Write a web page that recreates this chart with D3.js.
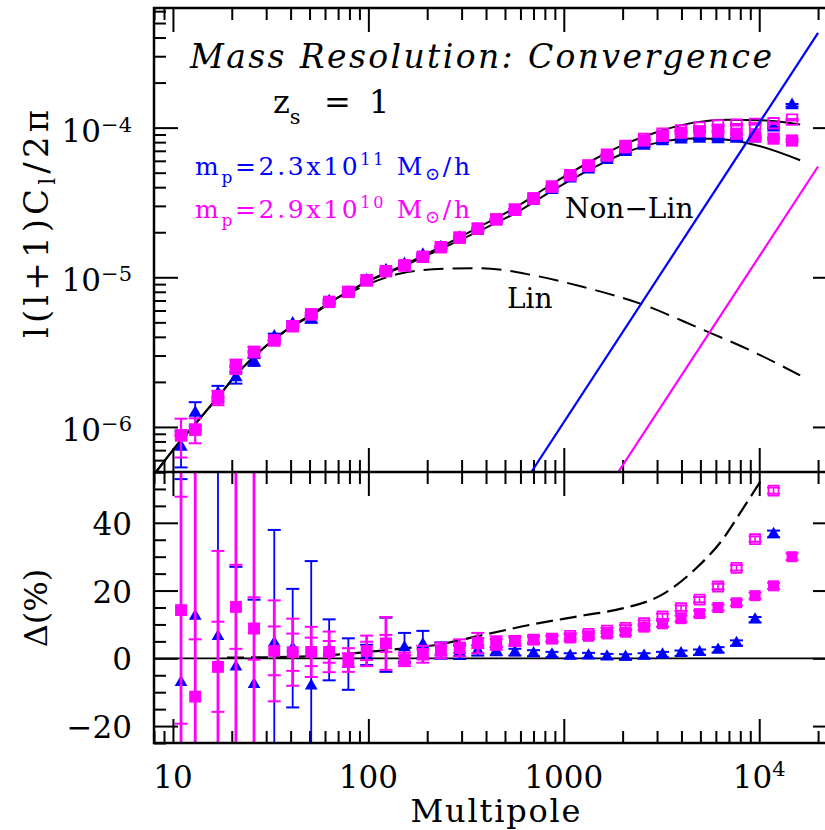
<!DOCTYPE html>
<html>
<head>
<meta charset="utf-8">
<title>Mass Resolution: Convergence</title>
<script src="https://cdn.jsdelivr.net/npm/d3@7"></script>
<style>
  body { margin: 0; background: #fff; }
  svg { display: block; }
  text { font-family: "DejaVu Serif", serif; fill: #000; }
</style>
</head>
<body>
<svg id="chart" width="825" height="830"></svg>
<script>
// multipole bins shared by all measured series
var ells = [11, 13, 17, 21, 26, 33, 41, 51, 63, 79, 98, 123, 153, 190, 235, 293, 363, 451, 562, 700,
  870, 1078, 1338, 1664, 2070, 2575, 3200, 3980, 4950, 6155, 7650, 9520, 11840, 14720];

// top panel, l(l+1)Cl/2pi
var powBlue = [7.35e-7, 1.24e-6, 1.68e-6, 2.14e-6, 2.72e-6, 4.0e-6, 4.9e-6, 5.2e-6, 6.9e-6, 7.85e-6,
  9.5e-6, 1.11e-5, 1.22e-5, 1.41e-5, 1.58e-5, 1.83e-5, 2.07e-5, 2.39e-5, 2.73e-5, 3.24e-5,
  3.82e-5, 4.56e-5, 5.24e-5, 6.07e-5, 6.85e-5, 7.55e-5, 8.1e-5, 8.3e-5, 8.4e-5, 8.35e-5,
  8.4e-5, 8.45e-5, 1.0e-4, 1.41e-4];
var powBlueErr = [0.27, 0.18, 0.12, 0.09, 0.06, 0.05, 0.04, 0.04, 0.03, 0.03, 0.025, 0.025, 0.02, 0.02,
  0.02, 0.02, 0.015, 0.015, 0.015, 0.015, 0.015, 0.015, 0.015, 0.015, 0.015, 0.015, 0.015, 0.015,
  0.015, 0.015, 0.015, 0.015, 0.015, 0.02];
var powMag = [8.8e-7, 9.6e-7, 1.57e-6, 2.54e-6, 3.17e-6, 3.79e-6, 4.71e-6, 5.66e-6, 6.84e-6, 7.98e-6,
  9.55e-6, 1.10e-5, 1.2e-5, 1.37e-5, 1.59e-5, 1.84e-5, 2.11e-5, 2.44e-5, 2.83e-5, 3.36e-5,
  4.03e-5, 4.8e-5, 5.55e-5, 6.5e-5, 7.4e-5, 8.2e-5, 8.8e-5, 9.25e-5, 9.45e-5, 9.4e-5,
  9.1e-5, 8.75e-5, 8.45e-5, 8.2e-5];
var powMagErr = [0.29, 0.19, 0.11, 0.11, 0.08, 0.05, 0.04, 0.03, 0.03, 0.025, 0.025, 0.02, 0.02, 0.02,
  0.02, 0.015, 0.015, 0.015, 0.015, 0.015, 0.015, 0.015, 0.015, 0.015, 0.015, 0.015, 0.015, 0.015,
  0.015, 0.015, 0.015, 0.015, 0.015, 0.02];
var powMagOpen = [8.8e-7, 9.6e-7, 1.57e-6, 2.54e-6, 3.17e-6, 3.79e-6, 4.71e-6, 5.66e-6, 6.84e-6, 7.98e-6,
  9.55e-6, 1.10e-5, 1.2e-5, 1.37e-5, 1.59e-5, 1.84e-5, 2.11e-5, 2.44e-5, 2.83e-5, 3.36e-5,
  4.03e-5, 4.82e-5, 5.6e-5, 6.6e-5, 7.55e-5, 8.4e-5, 9.1e-5, 9.6e-5, 1.0e-4, 1.035e-4,
  1.045e-4, 1.06e-4, 1.07e-4, 1.13e-4];
var powMagOpenErr = 0.012;

// bottom panel, Delta (%)
var dBlue = [-7.1, 12.5, 6.5, -2.5, -7.7, 4.6, 3.0, -8.1, 2.5, -1.7, 1.0, 4.0, 3.2, 4.1, 2.3, 1.8,
  2.3, 2.1, 1.8, 1.5, 1.1, 0.7, 0.8, 0.5, 0.4, 0.7, 1.1, 1.5, 1.8, 2.5, 4.5, 11.4, 36.7, 124];
var dBlueErr = [60, 60, 60, 29.5, 25, 33.3, 17.5, 36.8, 9.0, 7.6, 3.0, 8.0, 4.3, 4.0, 2.4, 2.0,
  1.5, 1.2, 1.0, 0.9, 0.8, 0.8, 0.8, 0.8, 0.8, 0.8, 0.8, 0.8, 0.8, 0.8, 0.8, 0.8, 1.0, 1.0];
var dMag = [14.2, -11.3, -2.5, 15.2, 8.8, 2.2, 1.8, 1.9, 1.9, -0.5, 2.2, 4.4, -0.3, 1.2, 2.3, 3.1,
  4.5, 4.5, 5.1, 5.5, 5.8, 6.0, 6.5, 7.2, 7.7, 9.2, 10.2, 11.7, 13.2, 15.0, 16.4, 18.5, 21.4, 30.0];
var dMagErr = [80, 80, 34.2, 60, 60, 14.9, 9.9, 7.4, 6.0, 3.5, 4.5, 7.8, 2.0, 2.5, 2.3, 2.5,
  3.0, 2.0, 1.5, 1.2, 1.0, 1.0, 0.9, 0.9, 0.9, 0.9, 0.9, 0.9, 0.9, 0.9, 0.9, 0.9, 0.9, 1.0];
var dMagOpen = [14.2, -11.3, -2.5, 15.2, 8.8, 2.2, 1.8, 1.9, 1.9, -0.5, 2.2, 4.4, -0.3, 1.2, 2.3, 3.1,
  4.5, 4.5, 5.1, 5.5, 5.8, 6.6, 7.2, 8.2, 9.0, 10.4, 12.4, 14.8, 17.3, 21.2, 26.7, 35.2, 49.5, 80];
var dMagOpenErr = [33.5, 16.9, 13.3, 12.4, 9.2, 7.2, 5.5, 4.2, 3.2, 2.0, 2.7, 2.5, 1.2, 1.5, 1.5, 1.5,
  1.5, 1.2, 1.0, 0.9, 0.8, 0.8, 0.8, 0.8, 0.8, 0.8, 0.8, 0.8, 0.8, 0.8, 0.8, 0.8, 0.9, 1.0];

// theory curves
var nlEll = [8, 10, 13, 17, 21, 26, 33, 41, 51, 63, 79, 100, 150, 233, 363, 564, 870, 1420, 2105,
  3118, 4616, 6837, 10110, 16200];
var nonLinA = [4.8e-7, 7.0e-7, 1.05e-6, 1.58e-6, 2.22e-6, 2.95e-6, 3.85e-6, 4.75e-6, 5.6e-6, 6.75e-6,
  8.0e-6, 9.4e-6, 1.18e-5, 1.54e-5, 2.02e-5, 2.68e-5, 3.78e-5, 5.4e-5, 6.87e-5, 8.0e-5, 8.45e-5,
  8.3e-5, 7.5e-5, 6.05e-5];
var nonLinB = [4.8e-7, 7.0e-7, 1.05e-6, 1.58e-6, 2.22e-6, 2.95e-6, 3.85e-6, 4.75e-6, 5.6e-6, 6.75e-6,
  8.0e-6, 9.45e-6, 1.2e-5, 1.59e-5, 2.15e-5, 2.92e-5, 4.2e-5, 6.1e-5, 7.87e-5, 9.5e-5, 1.08e-4,
  1.13e-4, 1.12e-4, 1.05e-4];
var linEll = [8, 10, 13, 17, 21, 26, 33, 41, 51, 63, 79, 100, 146, 243, 374, 701, 1263, 2460, 4990,
  8990, 16200];
var linPow = [4.8e-7, 7.0e-7, 1.05e-6, 1.58e-6, 2.22e-6, 2.95e-6, 3.85e-6, 4.72e-6, 5.55e-6, 6.65e-6,
  7.8e-6, 9.0e-6, 1.06e-5, 1.14e-5, 1.15e-5, 1.03e-5, 8.6e-6, 6.67e-6, 4.54e-6, 3.25e-6, 2.21e-6];
var diffEll = [18.9, 44.9, 66.2, 100, 170, 207, 374, 674, 1214, 2023, 3117, 4800, 6320, 8318, 10320];
var diffPct = [0.2, 0.5, 1.0, 1.9, 3.2, 3.7, 6.7, 9.9, 12.5, 14.8, 18.5, 26.8, 34.2, 44.5, 52.9];

// shot noise lines (end points)
var shotBlueEll = [682, 20000], shotBlue = [5.0e-7, 4.3e-4];
var shotMagEll = [1900, 20000], shotMag = [5.0e-7, 5.5e-5];

// tick labels
var xLabelAt = [10, 100, 1000, 10000];
var xLabelBase = ['10', '100', '1000', '10'];
var xLabelSup = ['', '', '', '4'];
var topLabelAt = [1e-6, 1e-5, 1e-4];
var topLabelSup = ['\u22126', '\u22125', '\u22124'];
var botLabelAt = [-20, 0, 20, 40];
var botLabelTxt = ['\u221220', '0', '20', '40'];

var BLUE = '#0000ff', MAG = '#ff00ff';

var svg = d3.select('#chart');

(function() {
  var frame = {left: 154, right: 837, top: 8, mid: 472, bottom: 743};

  svg.append('rect').attr('width', 825).attr('height', 830).attr('fill', '#fff');

  var x = d3.scaleLog().domain([8, 25000]).range([frame.left, frame.right]);
  var yTop = d3.scaleLog().domain([5e-7, 6.3e-4]).range([frame.mid, frame.top]);
  var yBot = d3.scaleLinear().domain([-25, 55]).range([frame.bottom, frame.mid]);

  var defs = svg.append('defs');
  defs.append('clipPath').attr('id', 'clipTop').append('rect')
    .attr('x', frame.left).attr('y', frame.top)
    .attr('width', frame.right - frame.left).attr('height', frame.mid - frame.top);
  defs.append('clipPath').attr('id', 'clipBot').append('rect')
    .attr('x', frame.left).attr('y', frame.mid)
    .attr('width', frame.right - frame.left).attr('height', frame.bottom - frame.mid);

  // ---- ticks (inward on every side of both panels)
  function isDecade(v) {
    var l = Math.log10(Math.abs(v));
    return Math.abs(l - Math.round(l)) < 1e-6;
  }
  var xMajor = x.ticks().filter(isDecade),
    xMinor = x.ticks().filter(function(v) { return !isDecade(v); });
  var topMajor = yTop.ticks().filter(isDecade),
    topMinor = yTop.ticks().filter(function(v) { return !isDecade(v); });
  var botMajor = yBot.ticks(4).filter(function(v) { return v % 20 === 0; }),
    botMinor = yBot.ticks(16).filter(function(v) { return v % 20 !== 0; });

  function drawTicks(scale, make, at, majors, minors) {
    [[majors, 24], [minors, 12]].forEach(function(p) {
      var g = svg.append('g').attr('transform', at)
        .call(make(scale).tickValues(p[0]).tickSize(p[1]).tickFormat(''));
      g.select('.domain').remove();
      g.selectAll('line').attr('stroke', '#000').attr('stroke-width', 2);
    });
  }
  drawTicks(x, d3.axisBottom, 'translate(0,' + frame.top + ')', xMajor, xMinor);
  drawTicks(x, d3.axisTop, 'translate(0,' + frame.mid + ')', xMajor, xMinor);
  drawTicks(x, d3.axisBottom, 'translate(0,' + frame.mid + ')', xMajor, xMinor);
  drawTicks(x, d3.axisTop, 'translate(0,' + frame.bottom + ')', xMajor, xMinor);
  drawTicks(yTop, d3.axisRight, 'translate(' + frame.left + ',0)', topMajor, topMinor);
  drawTicks(yTop, d3.axisLeft, 'translate(' + frame.right + ',0)', topMajor, topMinor);
  drawTicks(yBot, d3.axisRight, 'translate(' + frame.left + ',0)', botMajor, botMinor);
  drawTicks(yBot, d3.axisLeft, 'translate(' + frame.right + ',0)', botMajor, botMinor);

  // ---- helpers for points
  function rows(vals, errs, rel) {
    return ells.map(function(l, i) {
      var v = vals[i], e = Array.isArray(errs) ? errs[i] : errs;
      return rel ? {l: l, v: v, lo: v * (1 - e), hi: v * (1 + e)}
        : {l: l, v: v, lo: v - e, hi: v + e};
    });
  }

  function errBars(g, data, y, color, lw, cap) {
    var e = g.append('g').attr('stroke', color).attr('fill', 'none')
      .selectAll('g').data(data).enter().append('g');
    e.append('line')
      .attr('x1', function(d) { return x(d.l); })
      .attr('x2', function(d) { return x(d.l); })
      .attr('y1', function(d) { return y(d.lo); })
      .attr('y2', function(d) { return y(d.hi); })
      .attr('stroke-width', lw);
    ['lo', 'hi'].forEach(function(k) {
      e.append('line')
        .attr('x1', function(d) { return x(d.l) - cap; })
        .attr('x2', function(d) { return x(d.l) + cap; })
        .attr('y1', function(d) { return y(d[k]); })
        .attr('y2', function(d) { return y(d[k]); })
        .attr('stroke-width', 2);
    });
  }

  function markers(g, data, y, shape, size, fill, stroke) {
    g.append('g').selectAll('path').data(data).enter().append('path')
      .attr('d', d3.symbol().type(shape).size(size))
      .attr('transform', function(d) { return 'translate(' + x(d.l) + ',' + y(d.v) + ')'; })
      .attr('fill', fill)
      .attr('stroke', stroke)
      .attr('stroke-width', stroke === 'none' ? 0 : 1.8);
  }

  // ---- top panel
  var top = svg.append('g').attr('clip-path', 'url(#clipTop)');
  var tline = d3.line()
    .x(function(d) { return x(d[0]); })
    .y(function(d) { return yTop(d[1]); })
    .curve(d3.curveMonotoneX);

  top.append('path').datum(d3.zip(linEll, linPow)).attr('d', tline)
    .attr('fill', 'none').attr('stroke', '#000').attr('stroke-width', 2)
    .attr('stroke-dasharray', '20,9');
  top.append('path').datum(d3.zip(nlEll, nonLinA)).attr('d', tline)
    .attr('fill', 'none').attr('stroke', '#000').attr('stroke-width', 2);
  top.append('path').datum(d3.zip(nlEll, nonLinB)).attr('d', tline)
    .attr('fill', 'none').attr('stroke', '#000').attr('stroke-width', 2);

  var tb = rows(powBlue, powBlueErr, true),
    tmo = rows(powMagOpen, powMagOpenErr, true),
    tm = rows(powMag, powMagErr, true);
  errBars(top, tb, yTop, BLUE, 1.8, 6.5);
  markers(top, tb, yTop, d3.symbolTriangle, 78, BLUE, 'none');
  errBars(top, tmo, yTop, MAG, 1.8, 6.5);
  markers(top, tmo, yTop, d3.symbolSquare, 110, 'none', MAG);
  errBars(top, tm, yTop, MAG, 2.2, 6.5);
  markers(top, tm, yTop, d3.symbolSquare, 150, MAG, 'none');

  var sline = d3.line()
    .x(function(d) { return x(d[0]); })
    .y(function(d) { return yTop(d[1]); });
  top.append('path').datum(d3.zip(shotBlueEll, shotBlue)).attr('d', sline)
    .attr('fill', 'none').attr('stroke', BLUE).attr('stroke-width', 2.2);
  top.append('path').datum(d3.zip(shotMagEll, shotMag)).attr('d', sline)
    .attr('fill', 'none').attr('stroke', MAG).attr('stroke-width', 2.2);

  // ---- bottom panel
  var bot = svg.append('g').attr('clip-path', 'url(#clipBot)');
  bot.append('line')
    .attr('x1', frame.left).attr('x2', frame.right)
    .attr('y1', yBot(0)).attr('y2', yBot(0))
    .attr('stroke', '#000').attr('stroke-width', 1.8);

  var bline = d3.line()
    .x(function(d) { return x(d[0]); })
    .y(function(d) { return yBot(d[1]); })
    .curve(d3.curveMonotoneX);
  bot.append('path').datum(d3.zip(diffEll, diffPct)).attr('d', bline)
    .attr('fill', 'none').attr('stroke', '#000').attr('stroke-width', 2.2)
    .attr('stroke-dasharray', '17,7');

  var bb = rows(dBlue, dBlueErr, false),
    bmo = rows(dMagOpen, dMagOpenErr, false),
    bm = rows(dMag, dMagErr, false);
  errBars(bot, bb, yBot, BLUE, 1.8, 6.5);
  markers(bot, bb, yBot, d3.symbolTriangle, 70, BLUE, 'none');
  errBars(bot, bm, yBot, MAG, 2.8, 6.5);
  errBars(bot, bmo, yBot, MAG, 1.6, 6.5);
  markers(bot, bmo, yBot, d3.symbolSquare, 100, 'none', MAG);
  markers(bot, bm, yBot, d3.symbolSquare, 121, MAG, 'none');

  // ---- frame
  svg.append('rect')
    .attr('x', frame.left).attr('y', frame.top)
    .attr('width', frame.right - frame.left).attr('height', frame.bottom - frame.top)
    .attr('fill', 'none').attr('stroke', '#000').attr('stroke-width', 2.5);
  svg.append('line')
    .attr('x1', frame.left).attr('x2', frame.right)
    .attr('y1', frame.mid).attr('y2', frame.mid)
    .attr('stroke', '#000').attr('stroke-width', 2.5);

  // ---- tick labels
  xLabelAt.forEach(function(v, i) {
    var t = svg.append('text').attr('x', x(v)).attr('y', 788)
      .attr('text-anchor', 'middle').style('font-size', '31px')
      .text(xLabelBase[i]);
    if (xLabelSup[i]) {
      t.append('tspan').attr('dy', -12).style('font-size', '21px').text(xLabelSup[i]);
    }
  });
  topLabelAt.forEach(function(v, i) {
    var t = svg.append('text').attr('x', 132).attr('y', yTop(v) + 14)
      .attr('text-anchor', 'end').style('font-size', '31px').text('10');
    t.append('tspan').attr('dy', -10).style('font-size', '21px').text(topLabelSup[i]);
  });
  botLabelAt.forEach(function(v, i) {
    svg.append('text').attr('x', 132).attr('y', yBot(v) + 12)
      .attr('text-anchor', 'end').style('font-size', '31px').text(botLabelTxt[i]);
  });

  // ---- axis titles
  svg.append('text').attr('x', (frame.left + frame.right) / 2).attr('y', 822)
    .attr('text-anchor', 'middle').style('font-size', '32px')
    .attr('textLength', 170).attr('lengthAdjust', 'spacing')
    .text('Multipole');

  var yl = svg.append('text').attr('transform', 'translate(48,224) rotate(-90)')
    .attr('text-anchor', 'middle').style('font-size', '34px')
    .attr('textLength', 228).attr('lengthAdjust', 'spacing');
  yl.append('tspan').text('l(l+1)C');
  yl.append('tspan').attr('dy', 7).style('font-size', '22px').text('l');
  yl.append('tspan').attr('dy', -7).text('/2\u03c0');

  svg.append('text').attr('transform', 'translate(47,608) rotate(-90)')
    .attr('text-anchor', 'middle').style('font-size', '32px')
    .text('\u0394(%)');

  // ---- annotations
  svg.append('text').attr('x', 190).attr('y', 68)
    .style('font-size', '33px').style('font-style', 'italic')
    .attr('textLength', 582).attr('lengthAdjust', 'spacing')
    .text('Mass Resolution: Convergence');

  var zs = svg.append('text').attr('y', 113).style('font-size', '32px');
  zs.append('tspan').attr('x', 273).text('z');
  zs.append('tspan').attr('dy', 11).style('font-size', '21px').text('s');
  zs.append('tspan').attr('x', 324).attr('dy', -11).text('=');
  zs.append('tspan').attr('x', 369).text('1');

  function legendLine(y, color, mant, expo) {
    var t = svg.append('text').attr('x', 195).attr('y', y)
      .style('font-size', '25px').style('fill', color)
      .attr('textLength', 275).attr('lengthAdjust', 'spacing');
    t.append('tspan').text('m');
    t.append('tspan').attr('dy', 8).style('font-size', '17px').text('p');
    t.append('tspan').attr('dy', -8).text('=' + mant + 'x10');
    t.append('tspan').attr('dy', -10).style('font-size', '16px').text(expo);
    t.append('tspan').attr('dy', 10).text(' M');
    t.append('tspan').attr('dy', 5).style('font-size', '18px').text('\u2299');
    t.append('tspan').attr('dy', -5).text('/h');
  }
  legendLine(175, BLUE, '2.3', '11');
  legendLine(218, MAG, '2.9', '10');

  svg.append('text').attr('x', 565).attr('y', 218).style('font-size', '28px')
    .text('Non\u2212Lin');
  svg.append('text').attr('x', 507).attr('y', 308).style('font-size', '28px')
    .text('Lin');
})();
</script>
</body>
</html>
